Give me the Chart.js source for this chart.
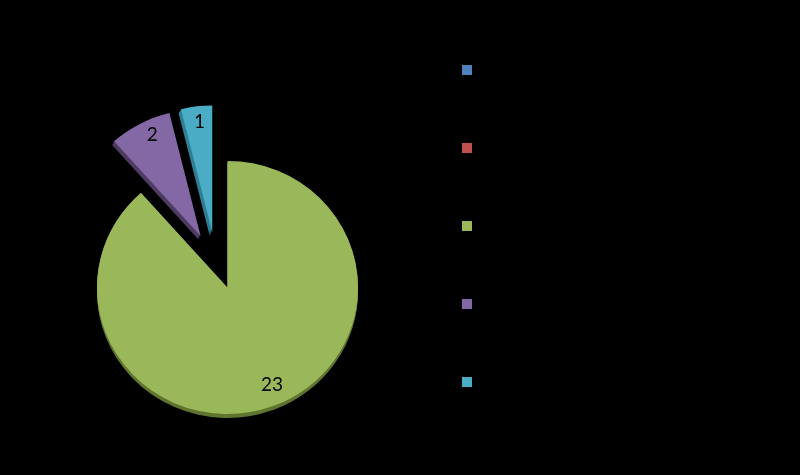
<!DOCTYPE html>
<html>
<head>
<meta charset="utf-8">
<title>Pie</title>
<script src="https://cdn.jsdelivr.net/npm/chart.js@4"></script>
<style>
  html, body { margin: 0; padding: 0; background: #000; }
  canvas { display: block; }
</style>
</head>
<body>
<canvas id="chart" width="800" height="475"></canvas>
<script>
// legend names are black on black in the picture, so they can't be read
const categories = ["", "", "", "", ""];
const values = [0, 0, 23, 2, 1];

const colors = ["#4f81bd", "#c0504d", "#9ab85a", "#8468a6", "#4bacc6"];
const sideColors = ["#2c4d75", "#772c2a", "#5f7530", "#4d3b62", "#2f7f94"];
// slice pull-out in pixels
const explode = [0, 0, 0, 60, 57.6];

// the pie sits lower than the legend, move it after layout
const centerX = 227.5;
const centerY = 287.5;
const tilt = 0.97;
const sliceNudgeX = [0, 0, 0, 1, -8.3];
const sideDepth = 4;
const sideShiftX = [0, 0, 0, -2, -2.5];

const labelRadius = 114;
const labelNudgeX = [0, 0, 4, 4.5, 1];
const labelNudgeY = [0, 0, -6, -3, 0];

const pieTweaks = {
  id: "pieTweaks",
  // the offset option also changes slice size, so pull slices out by hand
  afterDatasetsUpdate(chart) {
    chart.getDatasetMeta(0).data.forEach((arc, i) => {
      const mid = (arc.startAngle + arc.endAngle) / 2;
      arc.x = centerX + sliceNudgeX[i] + Math.cos(mid) * explode[i];
      arc.y = centerY + Math.sin(mid) * explode[i];
    });
  },
  // dark copies under each slice give the tilted 3D edge
  beforeDatasetDraw(chart) {
    const ctx = chart.ctx;
    ctx.save();
    ctx.translate(0, centerY);
    ctx.scale(1, tilt);
    ctx.translate(0, -centerY);
    chart.getDatasetMeta(0).data.forEach((arc, i) => {
      const opts = arc.options;
      arc.options = Object.assign({}, opts, { backgroundColor: sideColors[i] });
      for (let d = sideDepth; d > 0; d--) {
        ctx.save();
        ctx.translate(sideShiftX[i] * d / sideDepth, d);
        arc.draw(ctx);
        ctx.restore();
      }
      arc.options = opts;
    });
  },
  afterDatasetDraw(chart) {
    const ctx = chart.ctx;
    ctx.restore();
    ctx.save();
    ctx.fillStyle = "#000";
    ctx.font = "19px Lato";
    ctx.textAlign = "center";
    ctx.textBaseline = "middle";
    chart.getDatasetMeta(0).data.forEach((arc, i) => {
      if (!values[i]) return;
      const mid = (arc.startAngle + arc.endAngle) / 2;
      const x = arc.x + Math.cos(mid) * labelRadius + labelNudgeX[i];
      const y = centerY + (arc.y - centerY + Math.sin(mid) * labelRadius) * tilt + labelNudgeY[i];
      ctx.fillText(String(values[i]), x, y);
    });
    ctx.restore();
  }
};

new Chart(document.getElementById("chart"), {
  type: "pie",
  data: {
    labels: categories,
    datasets: [{
      data: values,
      backgroundColor: colors,
      borderWidth: 0,
      clip: false
    }]
  },
  options: {
    responsive: false,
    animation: false,
    radius: 130.5,
    layout: { padding: { top: 0, bottom: 23, left: 0, right: 308 } },
    plugins: {
      tooltip: { enabled: false },
      legend: {
        position: "right",
        labels: {
          color: "#000",
          boxWidth: 10,
          boxHeight: 10,
          padding: 58,
          font: { family: "Lato", size: 20 }
        }
      }
    }
  },
  plugins: [pieTweaks]
});
</script>
</body>
</html>
